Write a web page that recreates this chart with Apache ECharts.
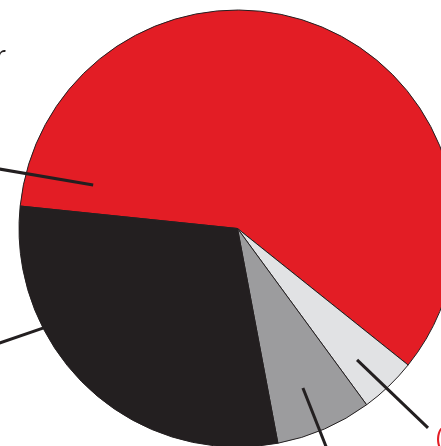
<!DOCTYPE html>
<html>
<head>
<meta charset="utf-8">
<script src="https://cdn.jsdelivr.net/npm/echarts@6/dist/echarts.min.js"></script>
<style>
html,body{margin:0;padding:0;background:#fff;}
#chart{width:441px;height:446px;}
</style>
</head>
<body>
<div id="chart"></div>
<script>
// ---- data ----
const categories = ['Labour', 'Other', 'Independent', 'Conservative'];
const shares = [59.1, 4.2, 7.1, 29.6];
const colors = ['#e31d25', '#e1e2e4', '#9c9c9e', '#231f20'];

// ---- layout (pixels / polar placement of leader lines) ----
const CX = 237.5, CY = 228.5, R = 218.5;
// [angleDeg, radiusFraction] for inner and outer ends of each leader line
const leaderInner = [[163.2, 0.69], [-47.7, 0.813], [-67.7, 0.789], [207.2, 0.99]];
const leaderOuter = [[166.3, 1.213], [-46.3, 1.262], [-67.95, 1.193], [205.2, 1.303]];
// label anchor positions
const labelPos = [[6, 57, 'right'], [436, 439, 'left'], [340, 500, 'left'], [-20, 360, 'right']];

function polar(a, f) {
  const rad = a * Math.PI / 180;
  return [CX + Math.cos(rad) * f * R, CY - Math.sin(rad) * f * R];
}

const chart = echarts.init(document.getElementById('chart'), null, {renderer: 'canvas'});
const sliceData = categories.map((c, i) => ({
  name: c,
  value: shares[i],
  itemStyle: {color: colors[i]}
}));
const labelData = categories.map((c, i) => ({
  name: c,
  value: shares[i],
  label: i === 1 ? {formatter: '({d}%)', color: '#e31d25'} : {formatter: '{b}', color: '#231f20'}
}));

const common = {
  type: 'pie',
  center: [CX, CY],
  radius: R,
  startAngle: 174.1,
  clockwise: true,
  avoidLabelOverlap: false,
  silent: true
};

chart.setOption({
  animation: false,
  series: [
    Object.assign({}, common, {
      z: 2,
      itemStyle: {borderColor: '#231f20', borderWidth: 1},
      label: {show: false},
      labelLine: {show: false},
      data: sliceData
    }),
    Object.assign({}, common, {
      z: 5,
      itemStyle: {color: 'rgba(0,0,0,0)', borderWidth: 0},
      label: {
        show: true,
        position: 'outside',
        fontFamily: 'Open Sans',
        fontSize: 25
      },
      labelLine: {
        show: true,
        length: 10,
        length2: 10,
        lineStyle: {color: '#231f20', width: 3}
      },
      labelLayout: function (p) {
        const i = p.dataIndex;
        return {
          x: labelPos[i][0],
          y: labelPos[i][1],
          align: labelPos[i][2],
          verticalAlign: 'middle',
          labelLinePoints: [polar(leaderInner[i][0], leaderInner[i][1]), polar(leaderOuter[i][0], leaderOuter[i][1])]
        };
      },
      data: labelData
    })
  ]
});
</script>
</body>
</html>
